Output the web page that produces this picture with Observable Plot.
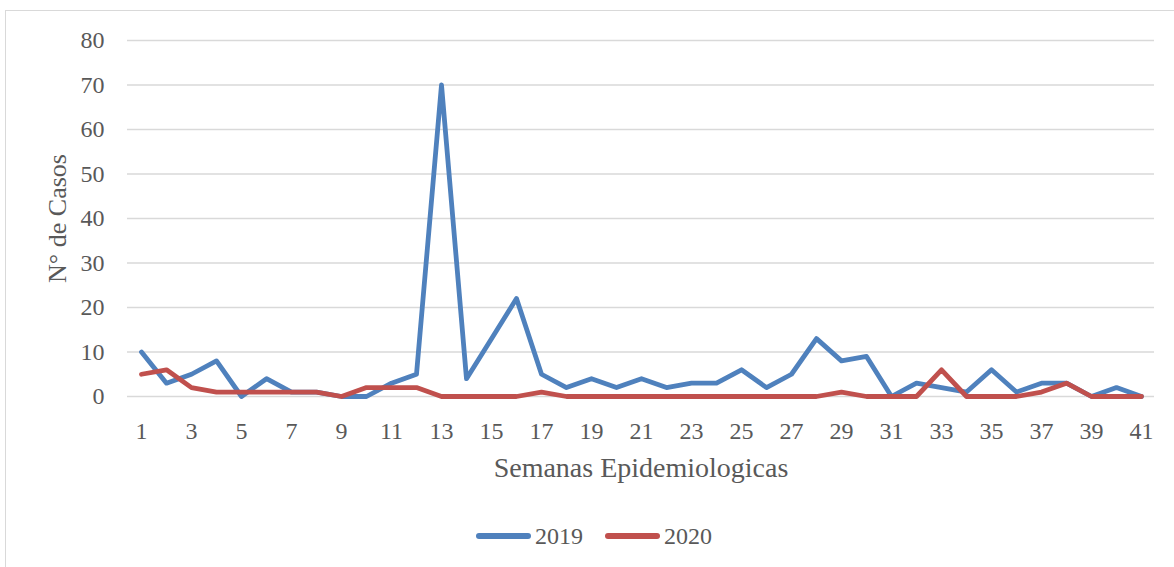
<!DOCTYPE html>
<html>
<head>
<meta charset="utf-8">
<script src="https://cdn.jsdelivr.net/npm/d3@7"></script>
<script src="https://cdn.jsdelivr.net/npm/@observablehq/plot@0.6"></script>
<style>
  html, body { margin: 0; padding: 0; background: #fff; }
  #wrap { position: relative; width: 1174px; height: 567px; overflow: hidden; font-family: "Liberation Serif", serif; }
  #frame { position: absolute; left: 5px; top: 10px; width: 1200px; height: 600px; border: 1.5px solid #d9d9d9; box-sizing: border-box; }
  #chart { position: absolute; left: 0; top: 0; }
  #chart [aria-label="y-axis label"] text { font-size: 26px; }
  #chart [aria-label="x-axis label"] text { font-size: 28px; }
  #legend { position: absolute; left: 0; top: 505px; width: 1174px; height: 62px; display: flex; align-items: center; justify-content: center; padding-left: 14px; box-sizing: border-box; color: #595959; font-size: 24px; }
  .item { display: flex; align-items: center; margin: 0 11px; }
  .sw { width: 55px; height: 6px; border-radius: 3px; margin-right: 4px; }
</style>
</head>
<body>
<div id="wrap">
  <div id="frame"></div>
  <div id="chart"></div>
  <div id="legend"></div>
</div>
<script>
const weeks = Array.from({length: 41}, (_, i) => i + 1);
const cases2019 = [10, 3, 5, 8, 0, 4, 1, 1, 0, 0, 3, 5, 70, 4, 13, 22, 5, 2, 4, 2, 4, 2, 3, 3, 6, 2, 5, 13, 8, 9, 0, 3, 2, 1, 6, 1, 3, 3, 0, 2, 0];
const cases2020 = [5, 6, 2, 1, 1, 1, 1, 1, 0, 2, 2, 2, 0, 0, 0, 0, 1, 0, 0, 0, 0, 0, 0, 0, 0, 0, 0, 0, 1, 0, 0, 0, 6, 0, 0, 0, 1, 3, 0, 0, 0];
const series = ["2019", "2020"];
const colors = ["#4f81bd", "#c0504d"];
const yTicks = [0, 10, 20, 30, 40, 50, 60, 70, 80];

const data = [];
weeks.forEach((w, i) => {
  data.push({week: w, cases: cases2019[i], year: series[0]});
  data.push({week: w, cases: cases2020[i], year: series[1]});
});

const chart = Plot.plot({
  width: 1174,
  height: 505,
  marginTop: 40,
  marginBottom: 109,
  marginLeft: 127,
  marginRight: 20,
  style: {fontFamily: "'Liberation Serif', serif", fontSize: "24px", color: "#595959", background: "transparent"},
  x: {type: "point", domain: weeks, padding: 0.5},
  y: {domain: [0, 80]},
  color: {domain: series, range: colors},
  marks: [
    Plot.gridY(yTicks, {stroke: "#d9d9d9", strokeOpacity: 1, strokeWidth: 1.5}),
    Plot.axisY({ticks: yTicks, tickSize: 0, tickPadding: 23, label: "N° de Casos", labelAnchor: "center", labelOffset: 80, labelArrow: "none", fill: "#595959"}),
    Plot.axisX({tickSize: 0, tickPadding: 25, tickFormat: d => d % 2 === 1 ? String(d) : "", label: "Semanas Epidemiologicas", labelAnchor: "center", labelOffset: 80, labelArrow: "none", fill: "#595959"}),
    Plot.line(data, {x: "week", y: "cases", z: "year", stroke: "year", strokeWidth: 4.8, strokeLinejoin: "round", strokeLinecap: "round"})
  ]
});
document.getElementById("chart").appendChild(chart);

const legend = document.getElementById("legend");
series.forEach((s, i) => {
  const item = document.createElement("div");
  item.className = "item";
  const sw = document.createElement("div");
  sw.className = "sw";
  sw.style.background = colors[i];
  const t = document.createElement("span");
  t.textContent = s;
  item.appendChild(sw);
  item.appendChild(t);
  legend.appendChild(item);
});
</script>
</body>
</html>
